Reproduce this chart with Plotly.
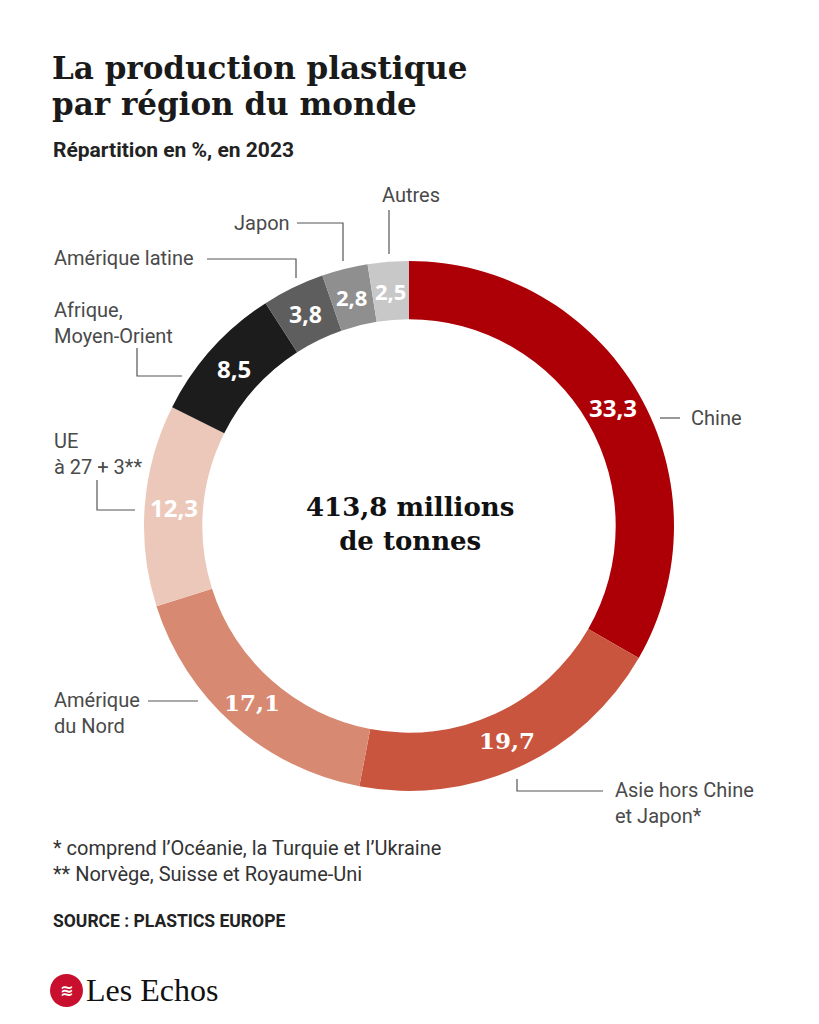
import math
import plotly.graph_objects as go

W, H = 819, 1024

regions = ["Chine", "Asie hors Chine et Japon*", "Amérique du Nord", "UE à 27+3**",
           "Afrique, Moyen-Orient", "Amérique latine", "Japon", "Autres"]
shares = [33.3, 19.7, 17.1, 12.3, 8.5, 3.8, 2.8, 2.5]
colors = ["#AD0006", "#C9553E", "#D78972", "#ECC8BA", "#1C1C1C", "#5E5E5E", "#8F8F8F", "#C8C8C8"]
label_fonts = ["Open Sans", "DejaVu Serif", "DejaVu Serif", "Open Sans",
               "Open Sans", "Open Sans", "Open Sans", "Open Sans"]
label_sizes = [24, 23, 23, 24, 24, 23, 22, 22]
total = "413,8"


def px(x):
    return x / W


def py(y):
    return 1 - y / H


# donut geometry (pixels)
cx, cy, r = 409, 526, 265
hole = 0.78

fig = go.Figure(go.Pie(
    labels=regions,
    values=shares,
    textinfo="none",
    marker=dict(colors=colors, line=dict(width=0)),
    hole=hole,
    sort=False,
    direction="clockwise",
    rotation=0,
    showlegend=False,
    hoverinfo="label+value",
    domain=dict(x=[px(cx - r), px(cx + r)], y=[py(cy + r), py(cy - r)]),
))

grey = "#4A4A4A"
ann = []


def txt(x, y, s, size=20, color=grey, family="Roboto", xanchor="left", yanchor="middle"):
    ann.append(dict(x=px(x), y=py(y), xref="paper", yref="paper", text=s, showarrow=False,
                    xanchor=xanchor, yanchor=yanchor, align=xanchor if xanchor != "center" else "center",
                    font=dict(size=size, color=color, family=family)))


# value labels in the ring, placed at mid-angle / mid-radius of each slice
r_mid = r * (1 + hole) / 2
acc = 0
for v, fam, sz in zip(shares, label_fonts, label_sizes):
    a = math.radians((acc + v / 2) / sum(shares) * 360)
    acc += v
    txt(cx + r_mid * math.sin(a), cy - r_mid * math.cos(a),
        "<b>" + f"{v:.1f}".replace(".", ",") + "</b>", sz, "white", fam, xanchor="center")

# title block
txt(50, 68, "<b>La production plastique</b>", 31, "#1A1A1A", "DejaVu Serif")
txt(50, 104, "<b>par région du monde</b>", 31, "#1A1A1A", "DejaVu Serif")
txt(51, 150, "<b>Répartition en %, en 2023</b>", 21, "#222222", "Roboto")

# centre
txt(cx + 1, 524, "<b>" + total + " millions<br>de tonnes</b>", 26, "#111111", "DejaVu Serif",
    xanchor="center")

# category labels
txt(689, 418, "Chine")
txt(613, 803, "Asie hors Chine<br>et Japon*")
txt(52, 713, "Amérique<br>du Nord")
txt(52, 454, "UE<br>à 27 + 3**")
txt(52, 323, "Afrique,<br>Moyen-Orient")
txt(52, 258, "Amérique latine")
txt(232, 223, "Japon")
txt(411, 195, "Autres", xanchor="center")

# footnotes / source
txt(51, 861, "* comprend l’Océanie, la Turquie et l’Ukraine<br>** Norvège, Suisse et Royaume-Uni",
    20, "#333333")
txt(51, 921, "<b>SOURCE : PLASTICS EUROPE</b>", 17.5, "#222222")
txt(84, 990, "Les Echos", 32, "#111111", "Liberation Serif")

# leader lines (pixel polylines)
leaders = [
    [(660, 418), (680, 418)],
    [(517, 779), (517, 791), (603, 791)],
    [(148, 701), (198, 701)],
    [(97, 480), (97, 510), (135, 510)],
    [(137, 348), (137, 376), (182, 376)],
    [(207, 259), (296, 259), (296, 278)],
    [(297, 223), (343, 223), (343, 261)],
    [(389, 210), (389, 254)],
]
shapes = []
for pts in leaders:
    path = "M " + " L ".join(f"{px(x):.5f},{py(y):.5f}" for x, y in pts)
    shapes.append(dict(type="path", path=path, xref="paper", yref="paper",
                       line=dict(color="#555555", width=1.2)))

# logo disc
shapes.append(dict(type="circle", xref="paper", yref="paper",
                   x0=px(50), x1=px(83), y0=py(1007), y1=py(974),
                   fillcolor="#C8102E", line=dict(width=0)))
txt(66.5, 990, "<b>≋</b>", 16, "white", "DejaVu Sans", xanchor="center")

fig.update_layout(
    width=W, height=H,
    margin=dict(l=0, r=0, t=0, b=0),
    paper_bgcolor="white",
    plot_bgcolor="white",
    annotations=ann,
    shapes=shapes,
)

fig.write_html("out.html", config={"displayModeBar": False},
               post_script="document.body.style.margin='0';")
